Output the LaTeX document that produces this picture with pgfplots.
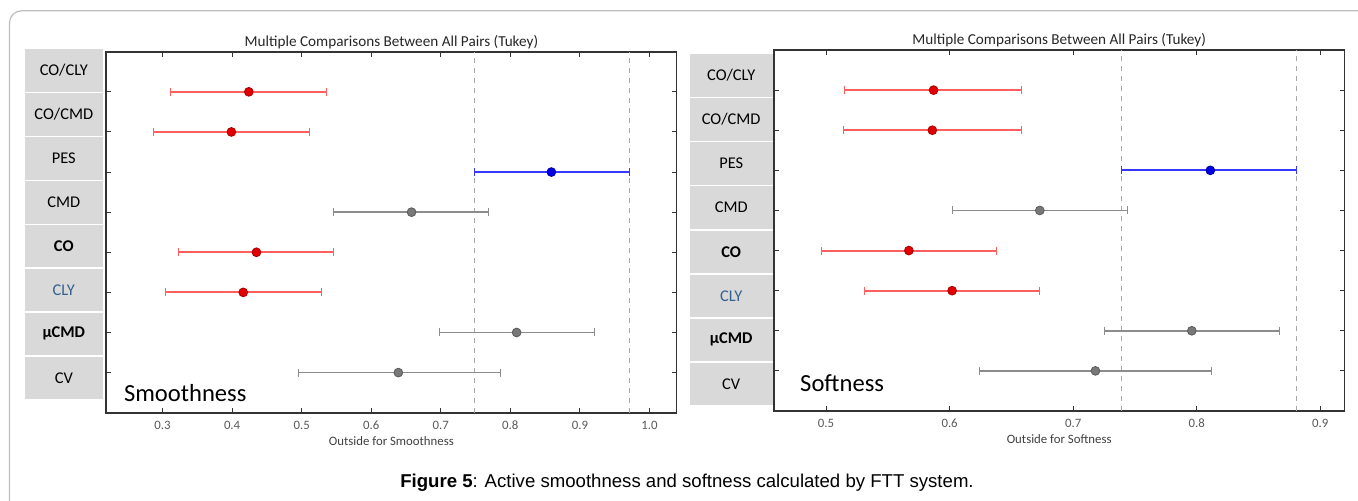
\documentclass[border=0pt]{standalone}
\usepackage{pgfplots}
\pgfplotsset{compat=1.18}
\usepackage{pgfplotstable}
\usepackage{fontspec}
\setmainfont{Carlito}
\newfontfamily\arial{Liberation Sans}

\definecolor{ebred}{RGB}{255,95,95}
\definecolor{mkred}{RGB}{225,0,0}
\definecolor{ebblue}{RGB}{55,55,255}
\definecolor{mkblue}{RGB}{0,0,225}
\definecolor{ebgray}{RGB}{140,140,140}
\definecolor{mkgray}{RGB}{120,120,120}
\definecolor{boxgray}{RGB}{217,217,217}
\definecolor{clyblue}{RGB}{54,96,146}
\definecolor{frame}{RGB}{190,190,190}

% rows: position, lower bound, mean, upper bound
\pgfplotstableread{
pos lo mean hi
8 0.312 0.424 0.535
7 0.287 0.399 0.511
6 0.749 0.859 0.971
5 0.546 0.658 0.769
4 0.323 0.435 0.546
3 0.304 0.416 0.528
2 0.698 0.809 0.921
1 0.495 0.639 0.786
}\smooth

\pgfplotstableread{
pos lo mean hi
8 0.515 0.587 0.658
7 0.514 0.586 0.658
6 0.739 0.811 0.881
5 0.602 0.673 0.744
4 0.496 0.567 0.638
3 0.531 0.602 0.673
2 0.725 0.796 0.867
1 0.624 0.718 0.812
}\soft

% one interval: table, row index, next index, bar colour, mark colour, bar width
\newcommand{\ci}[6]{%
  \addplot[only marks, mark=*, mark size=2.2pt,
    mark options={fill=#5, draw=#5!75!black, line width=0.4pt},
    skip coords between index={0}{#2},
    skip coords between index={#3}{100},
    error bars/.cd, x dir=both, x explicit, error mark=|,
    error bar style={draw=#4, line width=#6},
    error mark options={draw=#4, line width=0.5pt, mark size=2pt}]
    table[x=mean, y=pos,
      x error plus expr=\thisrow{hi}-\thisrow{mean},
      x error minus expr=\thisrow{mean}-\thisrow{lo}]{#1};
}

\pgfplotsset{tukey/.style={
  scale only axis, width=285.2pt, height=180.5pt,
  ymin=0, ymax=9, ytick={1,...,8}, yticklabel={\empty},
  tick align=inside, tick pos=both,
  major tick length=2.5pt,
  axis line style={draw=black!80, line width=0.8pt},
  major tick style={draw=black!80, line width=0.5pt},
  /pgf/number format/assume math mode=true,
  /pgf/number format/fixed, /pgf/number format/fixed zerofill,
  /pgf/number format/precision=1,
  xticklabel style={font=\fontsize{6.4}{7}\selectfont, text=black!65, yshift=-0.5pt},
  title={Multiple Comparisons Between All Pairs (Tukey)},
  title style={font=\fontsize{7.6}{8}\selectfont, text=black!85, yshift=-8pt},
  xlabel style={font=\fontsize{6.4}{7}\selectfont, text=black!75, yshift=3.5pt},
  clip=false,
}}

\begin{document}
\begin{tikzpicture}[x=1pt, y=1pt]
\useasboundingbox (0,0) rectangle (679,250);
\draw[frame, line width=0.6pt, rounded corners=6pt] (4.75,-20) rectangle (720,244.6);

% category boxes
\foreach \i in {0,...,7}{
  \pgfmathsetmacro\yt{(500-49.3-43.9*\i)*0.5}
  \fill[boxgray] (12.35,\yt) rectangle ++(39.05,-21.25);
  \pgfmathsetmacro\yr{(500-54.3-44.06*\i)*0.5}
  \fill[boxgray] (344.75,\yr) rectangle ++(41.75,-21.25);
}
\foreach \i/\t/\s in {0/{CO/CLY}/, 1/{CO/CMD}/, 2/PES/, 3/CMD/, 4/CO/\bfseries, 5/CLY/\color{clyblue}, 6/µCMD/\bfseries, 7/CV/}{
  \pgfmathsetmacro\yt{(500-49.3-43.9*\i)*0.5-10.6}
  \node[font=\fontsize{8.2}{9}\selectfont] at (31.9,\yt) {\s\t};
  \pgfmathsetmacro\yr{(500-54.3-44.06*\i)*0.5-10.6}
  \node[font=\fontsize{8.2}{9}\selectfont] at (365.6,\yr) {\s\t};
}

\begin{axis}[tukey, at={(53.1pt,43.65pt)}, anchor=south west,
  xmin=0.219, xmax=1.039, xtick={0.3,0.4,...,1.0},
  xlabel={Outside for Smoothness}]
  \addplot[draw=black!35, dash pattern=on 2.5pt off 2.5pt, line width=0.5pt] coordinates {(0.749,0) (0.749,9)};
  \addplot[draw=black!35, dash pattern=on 2.5pt off 2.5pt, line width=0.5pt] coordinates {(0.971,0) (0.971,9)};
  \ci{\smooth}{0}{1}{ebred}{mkred}{1pt}
  \ci{\smooth}{1}{2}{ebred}{mkred}{1pt}
  \ci{\smooth}{2}{3}{ebblue}{mkblue}{1pt}
  \ci{\smooth}{3}{4}{ebgray}{mkgray}{0.9pt}
  \ci{\smooth}{4}{5}{ebred}{mkred}{1pt}
  \ci{\smooth}{5}{6}{ebred}{mkred}{1pt}
  \ci{\smooth}{6}{7}{ebgray}{mkgray}{0.9pt}
  \ci{\smooth}{7}{8}{ebgray}{mkgray}{0.9pt}
  \node[anchor=base west, inner sep=0pt, font=\fontsize{12.3}{13}\selectfont] at ([xshift=8.7pt, yshift=5.5pt]rel axis cs:0,0) {Smoothness};
\end{axis}

\begin{axis}[tukey, at={(386.9pt,44.5pt)}, anchor=south west, width=285.35pt,
  xmin=0.4577, xmax=0.9196, xtick={0.5,0.6,...,0.9},
  xlabel={Outside for Softness}]
  \addplot[draw=black!35, dash pattern=on 2.5pt off 2.5pt, line width=0.5pt] coordinates {(0.739,0) (0.739,9)};
  \addplot[draw=black!35, dash pattern=on 2.5pt off 2.5pt, line width=0.5pt] coordinates {(0.881,0) (0.881,9)};
  \ci{\soft}{0}{1}{ebred}{mkred}{1pt}
  \ci{\soft}{1}{2}{ebred}{mkred}{1pt}
  \ci{\soft}{2}{3}{ebblue}{mkblue}{1pt}
  \ci{\soft}{3}{4}{ebgray}{mkgray}{0.9pt}
  \ci{\soft}{4}{5}{ebred}{mkred}{1pt}
  \ci{\soft}{5}{6}{ebred}{mkred}{1pt}
  \ci{\soft}{6}{7}{ebgray}{mkgray}{0.9pt}
  \ci{\soft}{7}{8}{ebgray}{mkgray}{0.9pt}
  \node[anchor=base west, inner sep=0pt, font=\fontsize{12.3}{13}\selectfont] at ([xshift=13pt, yshift=10pt]rel axis cs:0,0) {Softness};
\end{axis}

\node[font=\arial\fontsize{9.3}{10}\selectfont] at (343.5,8.5) {\textbf{Figure 5}: Active smoothness and softness calculated by FTT system.};
\end{tikzpicture}
\end{document}
